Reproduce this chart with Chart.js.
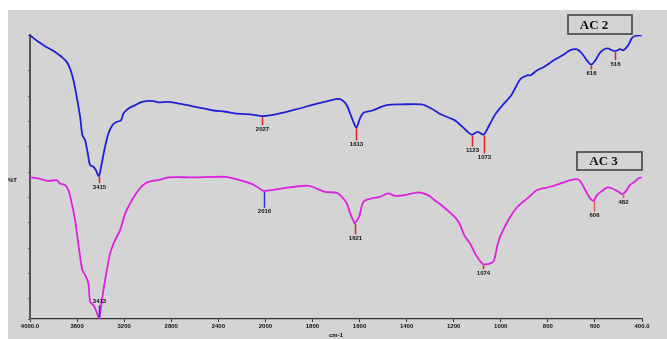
<!DOCTYPE html>
<html>
<head>
<meta charset="utf-8">
<script src="https://cdn.jsdelivr.net/npm/chart.js@4"></script>
<style>
  html, body { margin: 0; padding: 0; background: #fff; }
  #wrap { width: 667px; height: 339px; }
</style>
</head>
<body>
<div id="wrap"><canvas id="ftir" width="667" height="339"></canvas></div>
<script>
// wavenumbers (cm-1) and %T
var ac2Wn = [4000, 3929, 3872, 3787, 3730, 3688, 3660, 3631, 3603, 3574, 3555, 3532, 3509, 3489, 3461, 3441, 3415,
    3396, 3368, 3334, 3300, 3262, 3226, 3206, 3163, 3106, 3049, 2993, 2951, 2908, 2823, 2709, 2568, 2454, 2340,
    2241, 2100, 2027, 1957, 1872, 1788, 1717, 1696, 1675, 1654, 1640, 1626, 1613, 1598, 1583, 1548, 1485, 1422,
    1337, 1295, 1253, 1197, 1162, 1141, 1123, 1098, 1073, 1049, 1021, 992, 957, 936, 915, 887, 873, 845, 817,
    775, 732, 704, 676, 655, 634, 616, 598, 577, 549, 516, 493, 479, 458, 444, 430, 402];
var ac2T = [104.1, 101.5, 99.8, 97.5, 95.5, 93.6, 91.0, 86.4, 79.8, 71.9, 64.7, 62.7, 57.5, 52.8, 52.2, 50.9, 48.5,
    52.2, 58.8, 65.3, 68.6, 69.9, 70.6, 73.2, 75.2, 76.5, 77.8, 78.2, 78.1, 77.6, 77.8, 76.9, 75.6, 74.5, 73.9,
    73.2, 72.7, 72.2, 72.9, 74.8, 76.9, 78.5, 79.0, 78.5, 76.5, 73.2, 69.9, 67.7, 71.3, 73.5, 74.3, 76.5, 76.8,
    76.8, 75.2, 72.8, 70.6, 67.9, 66.0, 64.9, 66.0, 64.9, 68.6, 73.2, 76.5, 80.2, 83.7, 87.0, 88.3, 88.3, 90.3, 91.6,
    94.2, 96.5, 98.2, 98.5, 96.9, 94.2, 92.5, 94.2, 97.3, 98.9, 97.8, 98.6, 98.2, 100.2, 102.8, 103.8, 104.1];

var ac3Wn = [4000, 3929, 3844, 3773, 3745, 3702, 3674, 3645, 3617, 3594, 3574, 3555, 3532, 3504, 3489, 3461, 3441,
    3413, 3404, 3376, 3347, 3319, 3277, 3234, 3191, 3134, 3078, 3021, 2964, 2908, 2823, 2624, 2340, 2241, 2128,
    2071, 2016, 1928, 1830, 1802, 1746, 1696, 1675, 1654, 1640, 1626, 1621, 1602, 1583, 1548, 1513, 1478, 1450,
    1407, 1351, 1309, 1281, 1253, 1197, 1176, 1155, 1127, 1106, 1084, 1074, 1042, 1028, 1014, 1000, 964, 929,
    887, 845, 789, 746, 704, 676, 662, 641, 620, 606, 591, 570, 549, 528, 500, 482, 465, 451, 430, 416, 402];
var ac3T = [48.0, 47.6, 46.6, 46.9, 45.6, 45.0, 43.0, 37.7, 31.2, 23.3, 16.7, 11.4, 9.5, 6.2, -1.1, -2.4, -4.3,
    -7.6, -5.6, 3.5, 11.4, 18.0, 23.3, 27.2, 33.8, 39.0, 43.0, 45.6, 46.6, 46.9, 48.0, 48.0, 48.2, 47.2, 45.6,
    44.3, 42.7, 43.7, 44.7, 44.3, 42.3, 41.9, 40.3, 37.7, 33.8, 30.9, 29.9, 32.5, 38.4, 39.7, 40.3, 41.7, 40.7,
    41.0, 42.1, 41.0, 39.0, 37.1, 32.5, 29.9, 25.2, 21.3, 17.4, 14.5, 13.7, 14.1, 15.4, 21.3, 25.2, 31.8, 36.4,
    39.7, 43.0, 44.3, 45.6, 46.9, 47.3, 46.5, 43.0, 39.7, 38.8, 41.0, 42.6, 44.0, 43.7, 42.3, 41.4, 43.0, 45.0,
    46.3, 47.6, 48.0];

var ac2Peaks = [3415, 2027, 1613, 1123, 1073, 616, 516];
var ac3Peaks = [3413, 2016, 1621, 1074, 606, 482];

var seriesNames = ["AC 2", "AC 3"];

// the instrument plot halves the scale below 2000 cm-1
function toAxis(w) {
    return w >= 2000 ? (4000 - w) / 2 : 1000 + (2000 - w);
}
function fromAxis(u) {
    return u <= 1000 ? 4000 - 2 * u : 2000 - (u - 1000);
}
function points(wn, t) {
    return wn.map(function (w, i) { return { x: toAxis(w), y: t[i] }; });
}
function valueAt(wn, t, w) {
    for (var i = 0; i < wn.length - 1; i++) {
        if (w <= wn[i] && w >= wn[i + 1]) {
            var f = (wn[i] - w) / (wn[i] - wn[i + 1]);
            return t[i] + f * (t[i + 1] - t[i]);
        }
    }
    return t[t.length - 1];
}

// marker look for each peak: length (negative = upward), colour
var markStyle = [
    [[7, "#e02020"], [9, "#e02020"], [13, "#e02020"], [12, "#e02020"], [19, "#e02020"], [5, "#e02020"], [9, "#e02020"]],
    [[-13, "#3030d0"], [17, "#3030d0"], [11, "#e02020"], [5, "#e02020"], [11, "#e05858"], [4, "#e05858"]]
];
var boxPos = [[568, 15, 64, 19], [577, 152, 65, 18]];

var panelPlugin = {
    id: "panel",
    beforeDraw: function (chart) {
        var c = chart.ctx;
        c.save();
        c.fillStyle = "#d4d4d4";
        c.fillRect(8, 10, chart.width - 8, chart.height - 10);
        c.restore();
    },
    afterDatasetsDraw: function (chart) {
        var c = chart.ctx;
        var xs = chart.scales.x, ys = chart.scales.y;
        var sets = [[ac2Wn, ac2T, ac2Peaks], [ac3Wn, ac3T, ac3Peaks]];
        c.save();
        sets.forEach(function (s, k) {
            s[2].forEach(function (w, j) {
                var px = Math.round(xs.getPixelForValue(toAxis(w))) + 0.5;
                var py = ys.getPixelForValue(valueAt(s[0], s[1], w));
                var len = markStyle[k][j][0];
                c.strokeStyle = markStyle[k][j][1];
                c.lineWidth = 1.5;
                c.beginPath();
                c.moveTo(px, py + (len > 0 ? 1 : -1));
                c.lineTo(px, py + len);
                c.stroke();
                c.fillStyle = "#111";
                c.font = "bold 6px 'Liberation Sans'";
                c.textAlign = "center";
                c.textBaseline = len > 0 ? "top" : "bottom";
                c.fillText(String(w), px, py + len + (len > 0 ? 1 : -1));
            });
        });
        // series boxes
        seriesNames.forEach(function (name, k) {
            var b = boxPos[k];
            c.strokeStyle = "#3a3a3a";
            c.lineWidth = 1.5;
            c.strokeRect(b[0], b[1], b[2], b[3]);
            c.fillStyle = "#111";
            c.font = "bold 13px 'Liberation Serif'";
            c.textAlign = "center";
            c.textBaseline = "middle";
            c.fillText(name, b[0] + b[2] / 2 - 6, b[1] + b[3] / 2 + 1);
        });
        // %T label
        c.font = "bold 6px 'Liberation Sans'";
        c.textAlign = "left";
        c.textBaseline = "middle";
        c.fillText("%T", 8, 180);
        c.restore();
    }
};

var ctx = document.getElementById("ftir").getContext("2d");
var chart = new Chart(ctx, {
    type: "line",
    data: {
        datasets: [
            {
                label: seriesNames[0],
                data: points(ac2Wn, ac2T),
                borderColor: "#1f1fd6",
                borderWidth: 1.8,
                pointRadius: 0,
                tension: 0.3,
                fill: false
            },
            {
                label: seriesNames[1],
                data: points(ac3Wn, ac3T),
                borderColor: "#dd22dd",
                borderWidth: 1.8,
                pointRadius: 0,
                tension: 0.3,
                fill: false
            }
        ]
    },
    options: {
        responsive: false,
        animation: false,
        layout: { padding: { left: 8, top: 35, right: 25, bottom: 0 } },
        plugins: { legend: { display: false }, tooltip: { enabled: false } },
        scales: {
            x: {
                type: "linear",
                min: 0,
                max: 2600,
                afterFit: function (s) { s.height = 20; },
                border: { color: "#333", width: 1.2 },
                grid: { drawOnChartArea: false, tickLength: 3, color: "#333" },
                ticks: {
                    stepSize: 200,
                    autoSkip: false,
                    maxRotation: 0,
                    padding: 1,
                    color: "#111",
                    font: { family: "Liberation Sans", size: 6, weight: "bold" },
                    callback: function (v) {
                        var w = fromAxis(v);
                        return (w === 4000 || w === 400) ? w.toFixed(1) : String(w);
                    }
                },
                title: {
                    display: true,
                    text: "cm-1",
                    color: "#111",
                    padding: 0,
                    font: { family: "Liberation Sans", size: 6, weight: "bold" }
                }
            },
            y: {
                min: -7.9,
                max: 104.2,
                afterFit: function (s) { s.width = 22; },
                border: { color: "#555", width: 2 },
                grid: { drawOnChartArea: false, tickLength: 2, color: "#555" },
                ticks: { stepSize: 10, callback: function () { return ""; } }
            }
        }
    },
    plugins: [panelPlugin]
});
</script>
</body>
</html>
